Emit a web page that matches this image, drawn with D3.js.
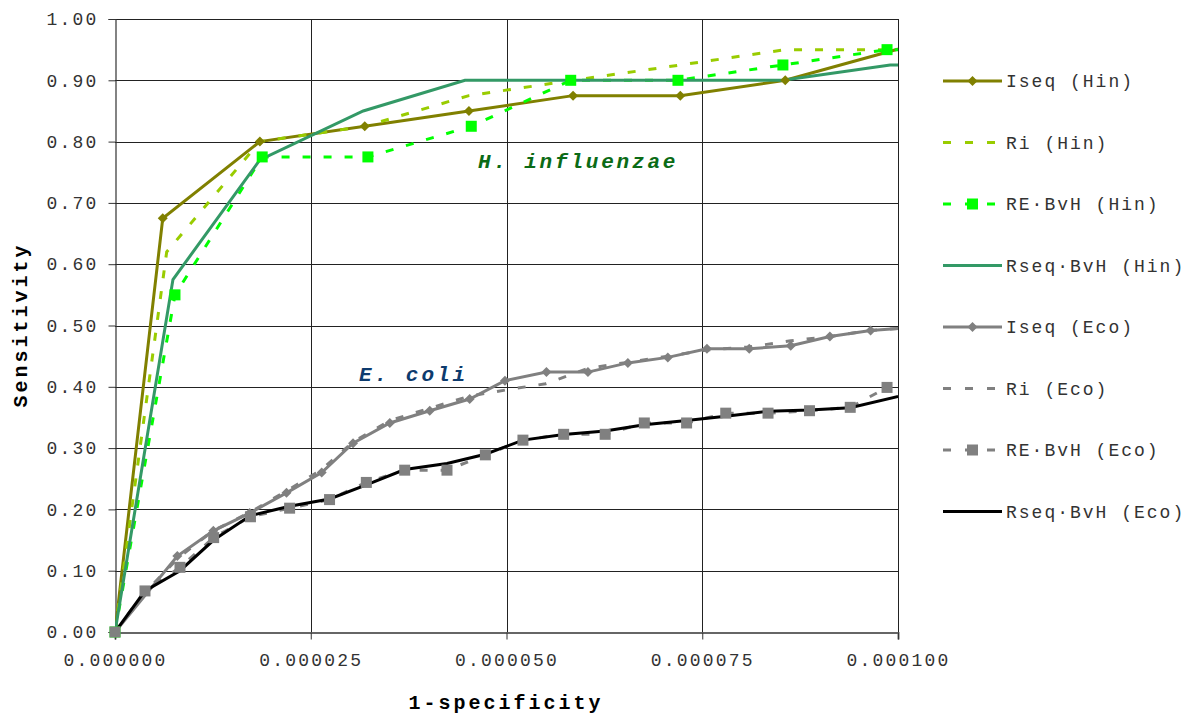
<!DOCTYPE html>
<html>
<head>
<meta charset="utf-8">
<script src="https://cdn.jsdelivr.net/npm/d3@7"></script>
<style>
  body { margin: 0; background: #fff; }
  text { font-family: "Liberation Mono", "Courier New", monospace; }
</style>
</head>
<body>
<script>

// x values are 1-specificity in millionths (1e-6), y is sensitivity

var hinIseqX = [0, 6.1, 18.5, 31.9, 45.2, 58.5, 72.2, 85.6, 106];
var hinIseqY = [0, 0.675, 0.80, 0.825, 0.85, 0.875, 0.875, 0.90, 0.972];

var hinRiX = [0, 6.6, 18.5, 31.9, 45.2, 58.5, 72.2, 85.6, 104];
var hinRiY = [0, 0.62, 0.80, 0.825, 0.875, 0.90, 0.925, 0.95, 0.95];

var hinReX = [0, 7.66, 18.8, 32.3, 45.5, 58.2, 71.9, 85.3, 98.6, 104];
var hinReY = [0, 0.55, 0.775, 0.775, 0.825, 0.90, 0.90, 0.925, 0.95, 0.95];

var hinRseqX = [0, 7.4, 18.5, 31.7, 44.7, 85.3, 99, 110];
var hinRseqY = [0, 0.575, 0.77, 0.85, 0.90, 0.90, 0.925, 0.925];

var ecoIseqX = [0, 7.96, 12.56, 17.2, 21.9, 26.4, 30.4, 35.1, 40.2, 45.3, 49.8, 55.1, 60.4, 65.5, 70.6, 75.6, 81.0, 86.3, 91.3, 96.5, 102];
var ecoIseqY = [0, 0.124, 0.165, 0.194, 0.227, 0.26, 0.308, 0.341, 0.361, 0.38, 0.41, 0.424, 0.424, 0.439, 0.448, 0.462, 0.462, 0.467, 0.482, 0.492, 0.497];

var ecoRiX = [0, 5.0, 8.0, 12.5, 17.2, 21.9, 26.4, 30.4, 35.1, 40.2, 45.3, 50.0, 55.0, 60.4, 65.5, 70.6, 75.6, 81.0, 86.3, 91.3, 96.5, 102];
var ecoRiY = [0, 0.08, 0.12, 0.165, 0.195, 0.23, 0.265, 0.31, 0.345, 0.365, 0.385, 0.395, 0.405, 0.43, 0.44, 0.45, 0.46, 0.465, 0.475, 0.482, 0.492, 0.497];

var ecoReX = [0, 3.83, 8.3, 12.6, 17.3, 22.3, 27.4, 32.1, 37.0, 42.4, 47.3, 52.1, 57.3, 62.6, 67.6, 73.0, 78.0, 83.4, 88.7, 93.9, 98.6];
var ecoReY = [0, 0.067, 0.1055, 0.154, 0.188, 0.202, 0.216, 0.244, 0.264, 0.264, 0.289, 0.313, 0.3225, 0.3225, 0.341, 0.341, 0.357, 0.357, 0.361, 0.3665, 0.399];

var ecoRseqX = [0, 3.83, 8.3, 12.6, 17.3, 22.3, 27.4, 32.1, 37.0, 42.4, 47.3, 52.1, 57.3, 62.6, 67.6, 73.0, 78.0, 83.4, 88.7, 93.9, 104];
var ecoRseqY = [0, 0.067, 0.1, 0.15, 0.19, 0.205, 0.217, 0.24, 0.265, 0.275, 0.29, 0.313, 0.322, 0.328, 0.338, 0.345, 0.352, 0.36, 0.362, 0.366, 0.396];

var xTicks = [0, 25, 50, 75, 100];
var yTicks = [0, 0.1, 0.2, 0.3, 0.4, 0.5, 0.6, 0.7, 0.8, 0.9, 1.0];

var series = [
  {name: "Iseq (Hin)",     xs: hinIseqX, ys: hinIseqY, color: "#808000", dash: null,   marker: "diamond"},
  {name: "Ri (Hin)",       xs: hinRiX,   ys: hinRiY,   color: "#99cc00", dash: "8,13", marker: null},
  {name: "RE\u00b7BvH (Hin)",  xs: hinReX,   ys: hinReY,   color: "#00ff00", dash: "8,13", marker: "square"},
  {name: "Rseq\u00b7BvH (Hin)", xs: hinRseqX, ys: hinRseqY, color: "#339966", dash: null,   marker: null},
  {name: "Iseq (Eco)",     xs: ecoIseqX, ys: ecoIseqY, color: "#808080", dash: null,   marker: "diamond"},
  {name: "Ri (Eco)",       xs: ecoRiX,   ys: ecoRiY,   color: "#808080", dash: "8,13", marker: null},
  {name: "RE\u00b7BvH (Eco)",  xs: ecoReX,   ys: ecoReY,   color: "#808080", dash: "8,13", marker: "square"},
  {name: "Rseq\u00b7BvH (Eco)", xs: ecoRseqX, ys: ecoRseqY, color: "#000000", dash: null,   marker: null}
];

var width = 1187, height = 717;
var plot = {left: 115, right: 898, top: 19, bottom: 632};

var svg = d3.select("body").append("svg")
    .attr("width", width)
    .attr("height", height);

var x = d3.scaleLinear().domain([0, 100]).range([plot.left, plot.right]);
var y = d3.scaleLinear().domain([0, 1]).range([plot.bottom, plot.top]);

svg.append("clipPath").attr("id", "clip")
  .append("rect")
    .attr("x", plot.left)
    .attr("y", plot.top - 2)
    .attr("width", plot.right - plot.left)
    .attr("height", plot.bottom - plot.top + 4);

// grid
svg.append("g").selectAll("line")
  .data(yTicks.slice(1))
  .enter().append("line")
    .attr("x1", plot.left).attr("x2", plot.right)
    .attr("y1", function(d) { return Math.round(y(d)) + 0.5; })
    .attr("y2", function(d) { return Math.round(y(d)) + 0.5; })
    .attr("stroke", "#222").attr("stroke-width", 1);

svg.append("g").selectAll("line")
  .data(xTicks.slice(1))
  .enter().append("line")
    .attr("x1", function(d) { return Math.round(x(d)) + 0.5; })
    .attr("x2", function(d) { return Math.round(x(d)) + 0.5; })
    .attr("y1", plot.top).attr("y2", plot.bottom)
    .attr("stroke", "#222").attr("stroke-width", 1);

// axes
var yAxis = d3.axisLeft(y).tickValues(yTicks).tickSize(7).tickPadding(10)
    .tickFormat(d3.format(".2f"));
var xAxis = d3.axisBottom(x).tickValues(xTicks).tickSize(7).tickPadding(14)
    .tickFormat(function(d) { return d3.format(".6f")(d / 1e6); });

var gy = svg.append("g")
    .attr("transform", "translate(" + (plot.left + 0.5) + ",0)")
    .call(yAxis);
var gx = svg.append("g")
    .attr("transform", "translate(0," + (plot.bottom + 0.5) + ")")
    .call(xAxis);

[gx, gy].forEach(function(g) {
  g.select(".domain").attr("stroke", "#333").attr("stroke-width", 1.2);
  g.selectAll(".tick line").attr("stroke", "#333");
  g.selectAll(".tick text")
    .attr("fill", "#333")
    .style("font-family", "'Liberation Mono', monospace")
    .style("font-size", "18px")
    .style("letter-spacing", "2.2px");
});
gx.select(".domain").attr("stroke", "#666").attr("stroke-width", 2);

// lines
var lineGen = d3.line()
    .x(function(d) { return x(d[0]); })
    .y(function(d) { return y(d[1]); });

var lines = svg.append("g").attr("clip-path", "url(#clip)");
series.forEach(function(s) {
  var pts = s.xs.map(function(v, i) { return [v, s.ys[i]]; });
  s.pts = pts;
  lines.append("path")
    .datum(pts)
    .attr("d", lineGen)
    .attr("fill", "none")
    .attr("stroke", s.color)
    .attr("stroke-width", 3)
    .attr("stroke-dasharray", s.dash);
});

function drawMarker(g, kind, cx, cy, color, size) {
  if (kind === "diamond") {
    g.append("path")
      .attr("d", "M" + cx + "," + (cy - size) + "L" + (cx + size) + "," + cy +
                 "L" + cx + "," + (cy + size) + "L" + (cx - size) + "," + cy + "Z")
      .attr("fill", color);
  } else if (kind === "square") {
    g.append("rect")
      .attr("x", cx - size).attr("y", cy - size)
      .attr("width", size * 2).attr("height", size * 2)
      .attr("fill", color);
  }
}

var marks = svg.append("g");
series.forEach(function(s) {
  if (!s.marker) return;
  s.pts.forEach(function(p) {
    if (p[0] > 100) return;
    drawMarker(marks, s.marker, x(p[0]), y(p[1]), s.color, s.marker === "square" ? 5.5 : 5);
  });
});

// annotations
svg.append("text")
    .attr("x", 478).attr("y", 168)
    .attr("fill", "#0b6b16")
    .style("font-size", "21px").style("font-weight", "bold").style("font-style", "italic")
    .style("letter-spacing", "2.8px")
    .text("H. influenzae");

svg.append("text")
    .attr("x", 359).attr("y", 381)
    .attr("fill", "#0d3b6e")
    .style("font-size", "21px").style("font-weight", "bold").style("font-style", "italic")
    .style("letter-spacing", "3px")
    .text("E. coli");

// axis titles
svg.append("text")
    .attr("x", 506).attr("y", 709)
    .attr("text-anchor", "middle")
    .style("font-size", "20px").style("font-weight", "bold")
    .style("letter-spacing", "3px")
    .text("1-specificity");

svg.append("text")
    .attr("transform", "translate(27,325) rotate(-90)")
    .attr("text-anchor", "middle")
    .style("font-size", "20px").style("font-weight", "bold")
    .style("letter-spacing", "3px")
    .text("Sensitivity");

// legend
var legend = svg.append("g");
series.forEach(function(s, i) {
  var ly = 81 + i * 61.5;
  legend.append("line")
    .attr("x1", 943).attr("x2", 1002)
    .attr("y1", ly).attr("y2", ly)
    .attr("stroke", s.color).attr("stroke-width", 3)
    .attr("stroke-dasharray", s.dash ? "8,14" : null);
  if (s.marker) drawMarker(legend, s.marker, 972.5, ly, s.color, s.marker === "square" ? 5.5 : 5);
  legend.append("text")
    .attr("x", 1006).attr("y", ly + 6)
    .attr("fill", "#333")
    .style("font-size", "18px")
    .style("letter-spacing", "2px")
    .text(s.name);
});

</script>
</body>
</html>
